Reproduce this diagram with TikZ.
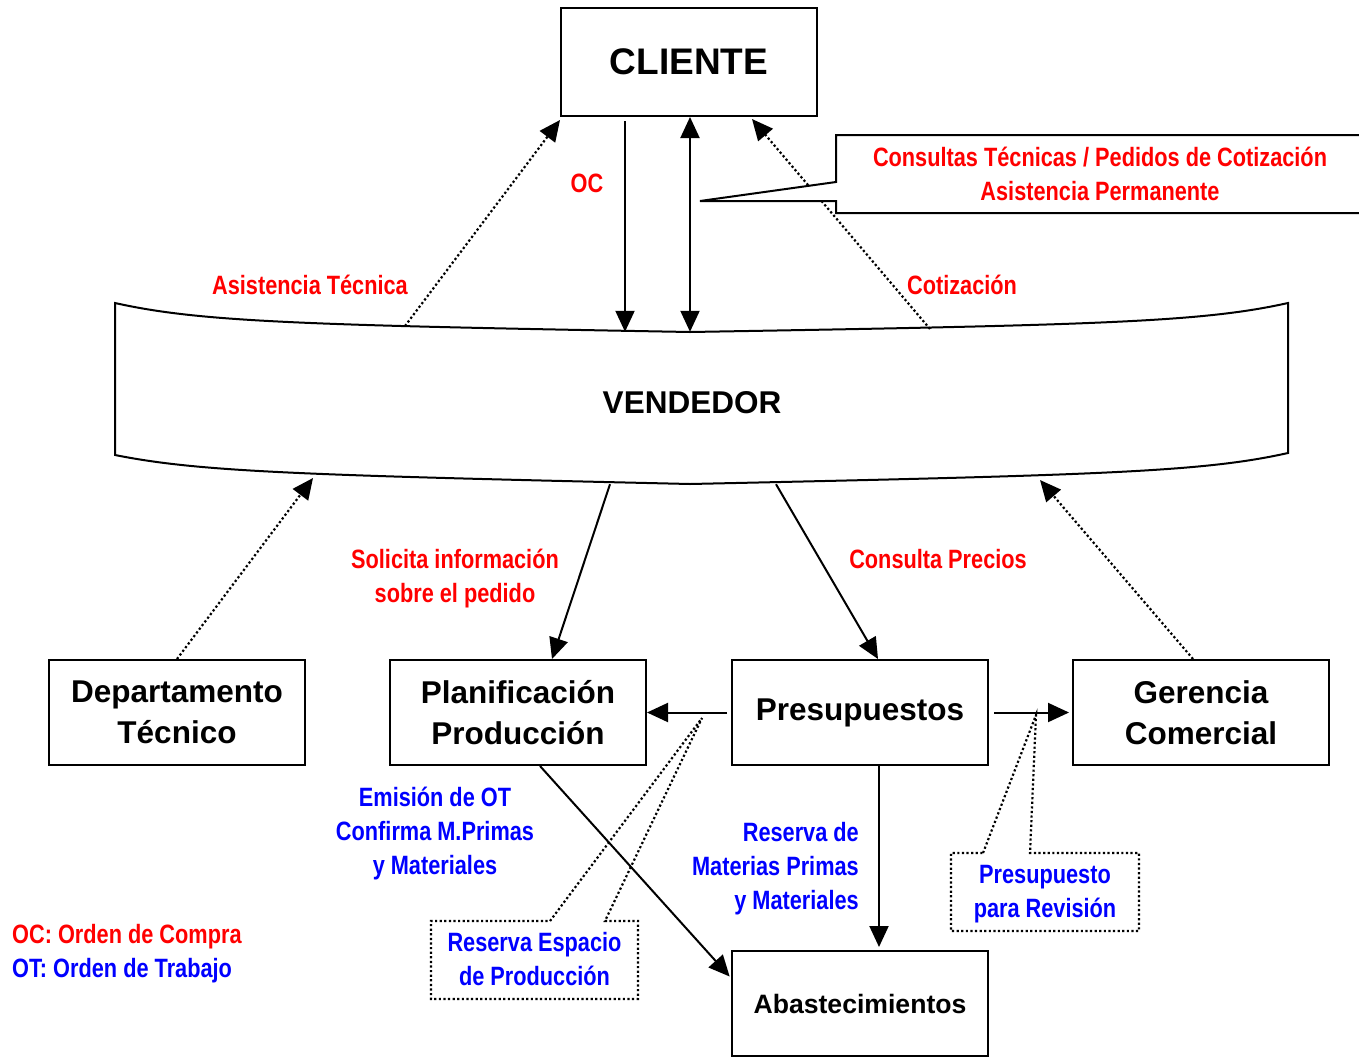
\documentclass[tikz,border=0pt]{standalone}
\usepackage{fontspec}
\usepackage{xcolor}
\usepackage{tikz}
\usetikzlibrary{arrows.meta}
\setmainfont{Liberation Sans}
\newfontfamily\narrowfont[FakeStretch=0.82]{Liberation Sans}
\definecolor{lblred}{RGB}{255,0,0}
\definecolor{lblblue}{RGB}{0,0,255}

\begin{document}
\begin{tikzpicture}[x=1pt, y=-1pt,
  box/.style={draw, line width=2pt, minimum width=256pt, minimum height=105pt, inner sep=0pt, align=center, font=\bfseries\fontsize{31.5}{41}\selectfont},
  redlbl/.style={text=lblred, inner sep=0pt, align=center, font=\narrowfont\bfseries\fontsize{26.5}{34}\selectfont},
  bluelbl/.style={redlbl, text=lblblue},
  arr/.style={line width=2pt, -{Triangle[length=21pt, width=19pt]}},
  dotarr/.style={arr, line width=2.2pt, dash pattern=on 2.2pt off 2.4pt},
  dotbox/.style={line width=2.2pt, dash pattern=on 2.2pt off 2.4pt}]

  \useasboundingbox (0,0) rectangle (1359,1060);

  % Cliente
  \node[box, minimum height=108pt, font=\bfseries\fontsize{37}{44}\selectfont] (cliente) at (689,62) {CLIENTE};

  % Vendedor
  \draw[line width=2pt] (115,303) .. controls (200,322) and (300,325) .. (690,332)
    .. controls (1103,325) and (1203,322) .. (1288,303) -- (1288,453)
    .. controls (1203,472) and (1103,475) .. (690,484)
    .. controls (300,475) and (200,472) .. (115,455) -- cycle;
  \node[minimum width=1173pt, minimum height=152pt, inner sep=0pt] (vendedor) at (701.5,408) {};
  \node[font=\bfseries\fontsize{31.5}{38}\selectfont] (vendtxt) at (692,403) {VENDEDOR};
  \coordinate (v-at) at (405,326);
  \coordinate (v-cot) at (930,329);
  \coordinate (v-dt) at (313,478);
  \coordinate (v-gc) at (1040,480);

  % Cliente <-> Vendedor
  \draw[arr, shorten <=4pt] (cliente.south -| 625,0) -- (vendedor.north -| 625,0);
  \draw[arr, {Triangle[length=21pt, width=19pt]}-{Triangle[length=21pt, width=19pt]}] (cliente.south -| 690,0) -- (vendedor.north -| 690,0);
  \draw[dotarr] (v-at) -- ([yshift=-3pt]cliente.south west);
  \draw[dotarr] (v-cot) -- ([yshift=-2pt]cliente.south -| 752,0);
  \node[redlbl] (lbloc) at (587,183) {OC};
  \node[redlbl] (lblat) at (310,285) {Asistencia Técnica};
  \node[redlbl] (lblcot) at (962,285) {Cotización};

  % Llamada consultas
  \draw[line width=2pt, fill=white] (1370,135) -- (836,135) -- (836,182) -- (700,201) -- (836,201) -- (836,213) -- (1370,213);
  \node[redlbl] (consultas) at (1100,174) {Consultas Técnicas / Pedidos de Cotización\\Asistencia Permanente};

  % Fila de departamentos
  \node[box] (depto) at (177,712.5) {Departamento\\Técnico};
  \node[box] (planif) at (518,712.5) {Planificación\\Producción};
  \node[box] (presup) at (860,712.5) {Presupuestos};
  \node[box] (gerencia) at (1201,712.5) {Gerencia\\Comercial};
  \node[box, font=\bfseries\fontsize{26.6}{32}\selectfont] (abast) at (860,1003.5) {Abastecimientos};

  % Vendedor <-> departamentos
  \draw[arr] (vendedor.south -| 610,0) -- (planif.north -| 552,0);
  \draw[arr] (vendedor.south -| 776,0) -- (presup.north -| 878,0);
  \draw[dotarr] (depto.north) -- (v-dt);
  \draw[dotarr] (gerencia.north -| 1193,0) -- (v-gc);
  \node[redlbl] (lblsol) at (455,579) {Solicita información\\sobre el pedido};
  \node[redlbl] (lblcp) at (938,559) {Consulta Precios};

  % Presupuestos
  \draw[arr, shorten <=4pt] (presup.west) -- (planif.east);
  \draw[arr, shorten <=5pt, shorten >=3pt] (presup.east) -- (gerencia.west);
  \draw[arr, shorten >=3pt] (presup.south -| 879,0) -- (abast.north -| 879,0);
  \draw[arr, shorten >=2pt] (planif.south -| 540,0) -- (abast.west |- 0,978);
  \node[bluelbl] (lblemi) at (435,834) {Emisión de OT\\Confirma M.Primas\\y Materiales};
  \node[bluelbl, align=right, anchor=east] (lblmat) at (859,869) {Reserva de\\Materias Primas\\y Materiales};

  % Notas punteadas
  \coordinate (tipres) at (702,718);
  \draw[dotbox] (550,921) -- (tipres) -- (605,921) -- (638,921) -- (638,999) -- (431,999) -- (431,921) -- cycle;
  \node[bluelbl] (resesp) at (534.5,959) {Reserva Espacio\\de Producción};
  \coordinate (tiprev) at (1036,715);
  \draw[dotbox] (983,853) -- (tiprev) -- (1030,853) -- (1139,853) -- (1139,931) -- (951,931) -- (951,853) -- cycle;
  \node[bluelbl] (presrev) at (1045,894) {Presupuesto\\para Revisión};

  % Leyenda
  \node[redlbl, anchor=west] (leyoc) at (12,937) {OC: Orden de Compra};
  \node[bluelbl, anchor=west] (leyot) at (12,971) {OT: Orden de Trabajo};
\end{tikzpicture}
\end{document}
